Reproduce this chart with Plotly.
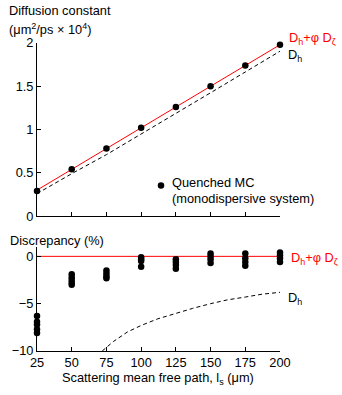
import plotly.graph_objects as go

# scattering mean free path (um)
ls = [25, 50, 75, 100, 125, 150, 175, 200]

# top panel: diffusion constant (um^2/ps x 1e4)
d_mc = [0.29, 0.54, 0.78, 1.02, 1.26, 1.50, 1.74, 1.98]
d_model = [0.30, 0.54, 0.78, 1.02, 1.26, 1.50, 1.74, 1.98]
d_h = [0.26, 0.49, 0.71, 0.945, 1.185, 1.425, 1.665, 1.905]

# bottom panel: discrepancy (%) of each quenched MC run
disc_runs = {
    25: [-6.3, -6.9, -7.2, -7.7, -8.1],
    50: [-1.9, -2.2, -2.5, -2.8, -3.0],
    75: [-1.5, -1.8, -2.1, -2.3],
    100: [-0.1, -0.3, -0.5, -1.1],
    125: [-0.3, -0.6, -0.9, -1.3],
    150: [0.3, 0.0, -0.3, -0.7],
    175: [0.3, -0.2, -0.6, -1.0],
    200: [0.4, 0.1, -0.2, -0.6],
}
disc_model = [0, 0, 0, 0, 0, 0, 0, 0]
dh_ls = [72, 80, 90, 100, 112, 125, 137, 150, 162, 175, 187, 200]
dh_disc = [-10, -9.0, -8.0, -7.3, -6.6, -6.0, -5.5, -5.0, -4.6, -4.3, -4.0, -3.8]

disc_x = [k for k, v in disc_runs.items() for _ in v]
disc_y = [y for v in disc_runs.values() for y in v]

FONT = "Liberation Sans, Arial, sans-serif"
FS = 12.8
RED = "#ff0000"

fig = go.Figure()

# top panel
fig.add_trace(go.Scatter(x=ls, y=d_model, mode="lines", line=dict(color=RED, width=1),
                         showlegend=False, xaxis="x", yaxis="y"))
fig.add_trace(go.Scatter(x=ls, y=d_h, mode="lines", line=dict(color="black", width=1, dash="4px,3px"),
                         showlegend=False, xaxis="x", yaxis="y"))
# legend text is drawn as annotation below (plotly's symbol/text gap is too wide)
fig.add_trace(go.Scatter(x=ls, y=d_mc, mode="markers", marker=dict(color="black", size=6.5),
                         name=" ", cliponaxis=False, xaxis="x", yaxis="y"))

# bottom panel
fig.add_trace(go.Scatter(x=ls, y=disc_model, mode="lines", line=dict(color=RED, width=1),
                         showlegend=False, xaxis="x2", yaxis="y2"))
fig.add_trace(go.Scatter(x=dh_ls, y=dh_disc, mode="lines", line=dict(color="black", width=1, dash="4px,3px"),
                         showlegend=False, xaxis="x2", yaxis="y2"))
fig.add_trace(go.Scatter(x=disc_x, y=disc_y, mode="markers", marker=dict(color="black", size=6.5),
                         showlegend=False, cliponaxis=False, xaxis="x2", yaxis="y2"))

axis_common = dict(showline=True, linecolor="black", linewidth=1, ticks="inside", ticklen=4,
                   tickcolor="black", showgrid=False, zeroline=False,
                   tickfont=dict(size=FS, color="black", family=FONT))

fig.update_layout(
    width=342, height=395,
    margin=dict(l=31, r=62, t=43, b=44),
    paper_bgcolor="white", plot_bgcolor="white",
    font=dict(family=FONT, size=FS, color="black"),
    xaxis=dict(domain=[0, 1], anchor="y", range=[25, 200], tickvals=ls,
               showticklabels=False, **axis_common),
    yaxis=dict(domain=[0.438, 1], anchor="x", range=[0, 2],
               tickvals=[0, 0.5, 1, 1.5, 2], ticktext=["0", "0.5", "1", "1.5", "2"], **axis_common),
    xaxis2=dict(domain=[0, 1], anchor="y2", range=[25, 200], tickvals=ls, **axis_common),
    yaxis2=dict(domain=[0, 0.338], anchor="x2", range=[-10, 1], tickvals=[-10, -5, 0],
                ticktext=["\u221210", "\u22125", "0"], **axis_common),
    legend=dict(x=0.428, y=0.584, xanchor="left", yanchor="top", valign="top",
                bgcolor="rgba(0,0,0,0)", font=dict(size=12, family=FONT, color="black"),
                itemwidth=30, tracegroupgap=0),
    showlegend=True,
)

def note(text, x, y, color="black", xanchor="left"):
    fig.add_annotation(text=text, x=x, y=y, xref="paper", yref="paper", showarrow=False,
                       xanchor=xanchor, yanchor="middle", align="left",
                       font=dict(size=FS, color=color, family=FONT))

note("Diffusion constant", -0.124, 1.107)
note("(\u03bcm<sup>2</sup>/ps \u00d7 10<sup>4</sup>)", -0.124, 1.045)
note("Discrepancy (%)", -0.12, 0.360)
note("Scattering mean free path, l<sub>s</sub> (\u03bcm)", 0.498, -0.09, xanchor="center")
note("Quenched MC", 0.547, 0.546)
note("(monodispersive system)", 0.547, 0.494)
note("D<sub>h</sub>+\u03c6 D<sub>\u03b6</sub>", 1.028, 1.016, color=RED)
note("D<sub>h</sub>", 1.025, 0.958)
note("D<sub>h</sub>", 1.025, 0.172)
note("D<sub>h</sub>+\u03c6 D<sub>\u03b6</sub>", 1.036, 0.300, color=RED)

fig.write_html("out.html", config={"displayModeBar": False},
               post_script="document.body.style.margin='0';")
